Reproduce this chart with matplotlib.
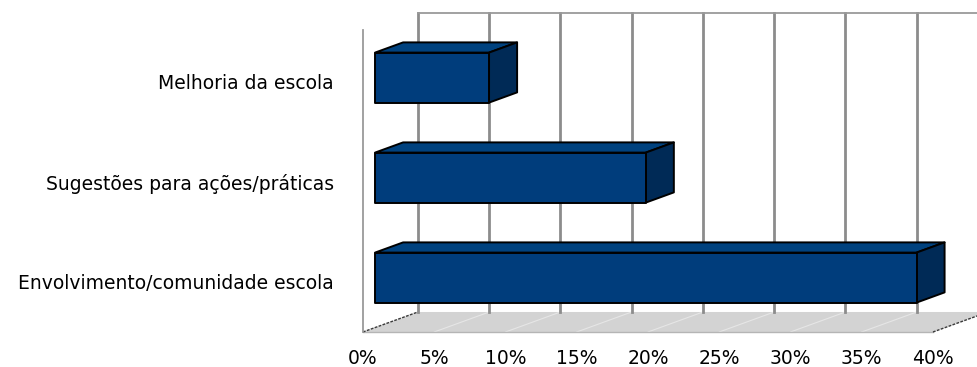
import matplotlib
matplotlib.use('Agg')
import matplotlib.pyplot as plt
from matplotlib.patches import Polygon

# Survey answers (share of respondents, %)
categories = ['Envolvimento/comunidade escola',
              'Sugestões para ações/práticas',
              'Melhoria da escola']
values = [38, 19, 8]
ticks = [0, 5, 10, 15, 20, 25, 30, 35, 40]
tick_labels = ['0%', '5%', '10%', '15%', '20%', '25%', '30%', '35%', '40%']

# oblique "3D" look: depth vector in data units
DX, DY = 3.86, 0.20
D0, D1 = 0.22, 0.73      # bar occupies this slice of the depth
BAR_H = 0.5

FRONT = '#003d7c'
TOP = '#00427f'
SIDE = '#002a56'


def main():
    fig = plt.figure(figsize=(9.77, 3.67), dpi=100)
    ax = fig.add_axes([0.3715, 0.0954, 0.5834, 0.8692])
    ax.set_xlim(0, 40)
    ax.set_ylim(0, 3.19)
    for s in ax.spines.values():
        s.set_visible(False)

    xmax = ticks[-1]
    ytop = len(categories)

    # floor
    floor = Polygon([(0, 0), (xmax, 0), (xmax + DX, DY), (DX, DY)],
                    closed=True, facecolor='#d3d3d3', edgecolor='none',
                    clip_on=False, zorder=1)
    ax.add_patch(floor)
    for t in ticks:
        ax.plot([t, t + DX], [0, DY], color='#e6e6e6', lw=0.8,
                clip_on=False, zorder=1.5)
    ax.plot([0, xmax], [0, 0], color='#b5b5b5', lw=1, clip_on=False, zorder=1.6)
    for x0 in (0, xmax):
        ax.plot([x0, x0 + DX], [0, DY], color='#3a3a3a', lw=1,
                ls=(0, (2, 1)), clip_on=False, zorder=1.7)

    # side wall edge and back wall with gridlines
    ax.plot([0, 0], [0, ytop + 0.02], color='#9a9a9a', lw=1.3,
            clip_on=False, zorder=2)
    for t in ticks:
        ax.plot([t + DX, t + DX], [DY, ytop + DY - 0.01], color='#8c8c8c',
                lw=2.0, clip_on=False, zorder=2)
    ax.plot([DX, xmax + DX + 5], [ytop + DY - 0.01, ytop + DY - 0.01],
            color='#9a9a9a', lw=1.3, clip_on=False, zorder=2)

    # bars
    ddx = (D1 - D0) * DX
    ddy = (D1 - D0) * DY
    for i, v in enumerate(values):
        c = i + 0.5
        x0 = D0 * DX
        x1 = v + D0 * DX
        yb = c - BAR_H / 2 + D0 * DY
        yt = c + BAR_H / 2 + D0 * DY
        faces = [
            ([(x0, yt), (x1, yt), (x1 + ddx, yt + ddy), (x0 + ddx, yt + ddy)], TOP),
            ([(x1, yb), (x1, yt), (x1 + ddx, yt + ddy), (x1 + ddx, yb + ddy)], SIDE),
            ([(x0, yb), (x1, yb), (x1, yt), (x0, yt)], FRONT),
        ]
        for pts, col in faces:
            ax.add_patch(Polygon(pts, closed=True, facecolor=col,
                                 edgecolor='#000000', lw=1.4,
                                 joinstyle='round', clip_on=False, zorder=3))

    ax.set_xticks(ticks)
    ax.set_xticklabels(tick_labels, fontsize=13.5)
    ax.set_yticks([i + 0.5 for i in range(len(categories))])
    ax.set_yticklabels(categories, fontsize=13.5)
    ax.tick_params(axis='x', length=0, pad=12)
    ax.tick_params(axis='y', length=0, pad=21)

    fig.savefig('out.png', dpi=100)
    plt.close(fig)


if __name__ == '__main__':
    main()
